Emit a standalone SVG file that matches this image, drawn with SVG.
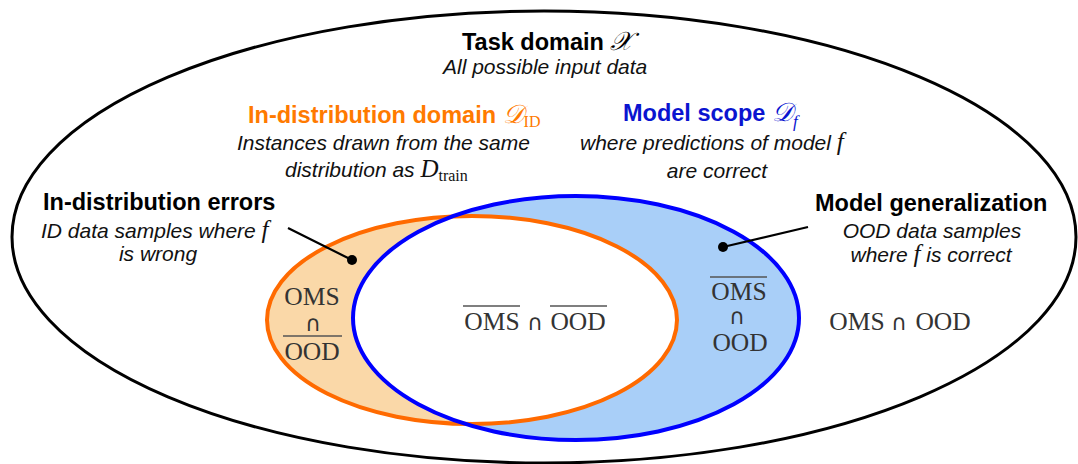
<svg xmlns="http://www.w3.org/2000/svg" width="1078" height="464" viewBox="0 0 1078 464">
<style>
.b{font-family:"Liberation Sans",Arial,sans-serif;font-weight:bold;font-size:23.5px}
.i{font-family:"Liberation Sans",Arial,sans-serif;font-style:italic;font-size:21px;fill:#111}
.c{text-anchor:middle}
.m{font-family:"Liberation Serif","Times New Roman",serif;font-size:25.5px;fill:#333;text-anchor:middle}
.cap{font-family:"DejaVu Sans",sans-serif;font-size:22px;fill:#333;text-anchor:middle}
.mi{font-family:"Liberation Serif","Times New Roman",serif;font-style:italic;font-size:25px}
.cal{font-family:"DejaVu Serif","Liberation Serif",serif;font-style:italic;font-weight:normal;font-size:26px}
.sub{font-family:"Liberation Serif","Times New Roman",serif;font-weight:normal;font-style:normal;font-size:16px}
.subi{font-family:"Liberation Serif","Times New Roman",serif;font-weight:normal;font-style:italic;font-size:17px}
.ov{stroke:#555;stroke-width:1.3}
.conn{stroke:#000;stroke-width:2.2}
</style>
<defs>
<clipPath id="blueClip"><ellipse cx="576" cy="318" rx="223" ry="122"/></clipPath>
</defs>
<g id="task-domain">
<ellipse cx="544" cy="237" rx="532" ry="226" fill="#fff" stroke="#000" stroke-width="3"/>
<text class="b" x="462" y="50" fill="#000">Task domain <tspan class="cal">𝒳</tspan></text>
<text class="i" x="443" y="74">All possible input data</text>
</g>
<g id="regions">
<ellipse cx="472" cy="320" rx="205" ry="104" fill="#fad8a8"/>
<ellipse cx="576" cy="318" rx="223" ry="122" fill="#a9cff8"/>
<ellipse cx="472" cy="320" rx="205" ry="104" fill="#fff" clip-path="url(#blueClip)"/>
</g>
<g id="id-domain">
<ellipse cx="472" cy="320" rx="205" ry="104" fill="none" stroke="#ff6a00" stroke-width="4"/>
<text class="b" x="248" y="123" fill="#ff7a00" font-size="21px">In-distribution domain <tspan class="cal" fill="#ff7a00">𝒟</tspan><tspan class="sub" dy="4">ID</tspan></text>
<text class="i" x="237" y="150">Instances drawn from the same</text>
<text class="i" x="285" y="177">distribution as <tspan class="mi">D</tspan><tspan class="sub" dy="4">train</tspan></text>
</g>
<g id="model-scope">
<ellipse cx="576" cy="318" rx="223" ry="122" fill="none" stroke="#0000ff" stroke-width="4"/>
<text class="b" x="623" y="121" fill="#0a14d0">Model scope <tspan class="cal">𝒟</tspan><tspan class="subi" dy="6">f</tspan></text>
<text class="i" x="580" y="150">where predictions of model <tspan class="mi">f</tspan></text>
<text class="i c" x="717" y="178">are correct</text>
</g>
<g id="id-errors">
<text class="b" x="43" y="210" fill="#000">In-distribution errors</text>
<text class="i" x="41" y="238">ID data samples where <tspan class="mi">f</tspan></text>
<text class="i c" x="158" y="261">is wrong</text>
</g>
<g id="model-generalization">
<text class="b" x="815" y="211" fill="#000">Model generalization</text>
<text class="i c" x="932" y="238">OOD data samples</text>
<text class="i c" x="931" y="262">where <tspan class="mi">f</tspan> is correct</text>
</g>
<g id="set-labels">
<text class="m" x="312" y="305">OMS</text>
<text class="cap" x="313" y="331">∩</text>
<line class="ov" x1="283" y1="336" x2="342" y2="336"/>
<text class="m" x="312" y="360">OOD</text>
<line class="ov" x1="463" y1="306" x2="520" y2="306"/>
<text class="m" x="492" y="330">OMS</text>
<text class="cap" x="535" y="330">∩</text>
<line class="ov" x1="550" y1="306" x2="607" y2="306"/>
<text class="m" x="578" y="330">OOD</text>
<line class="ov" x1="710" y1="277" x2="767" y2="277"/>
<text class="m" x="739" y="300">OMS</text>
<text class="cap" x="737" y="324">∩</text>
<text class="m" x="740" y="351">OOD</text>
<text class="m" x="857" y="330">OMS</text>
<text class="cap" x="899" y="330">∩</text>
<text class="m" x="943" y="330">OOD</text>
</g>
<g id="connectors">
<line class="conn" x1="288" y1="228" x2="352" y2="260"/>
<circle cx="352" cy="260" r="5" fill="#000"/>
<line class="conn" x1="808" y1="227" x2="723" y2="247"/>
<circle cx="723" cy="247" r="5" fill="#000"/>
</g>
</svg>
